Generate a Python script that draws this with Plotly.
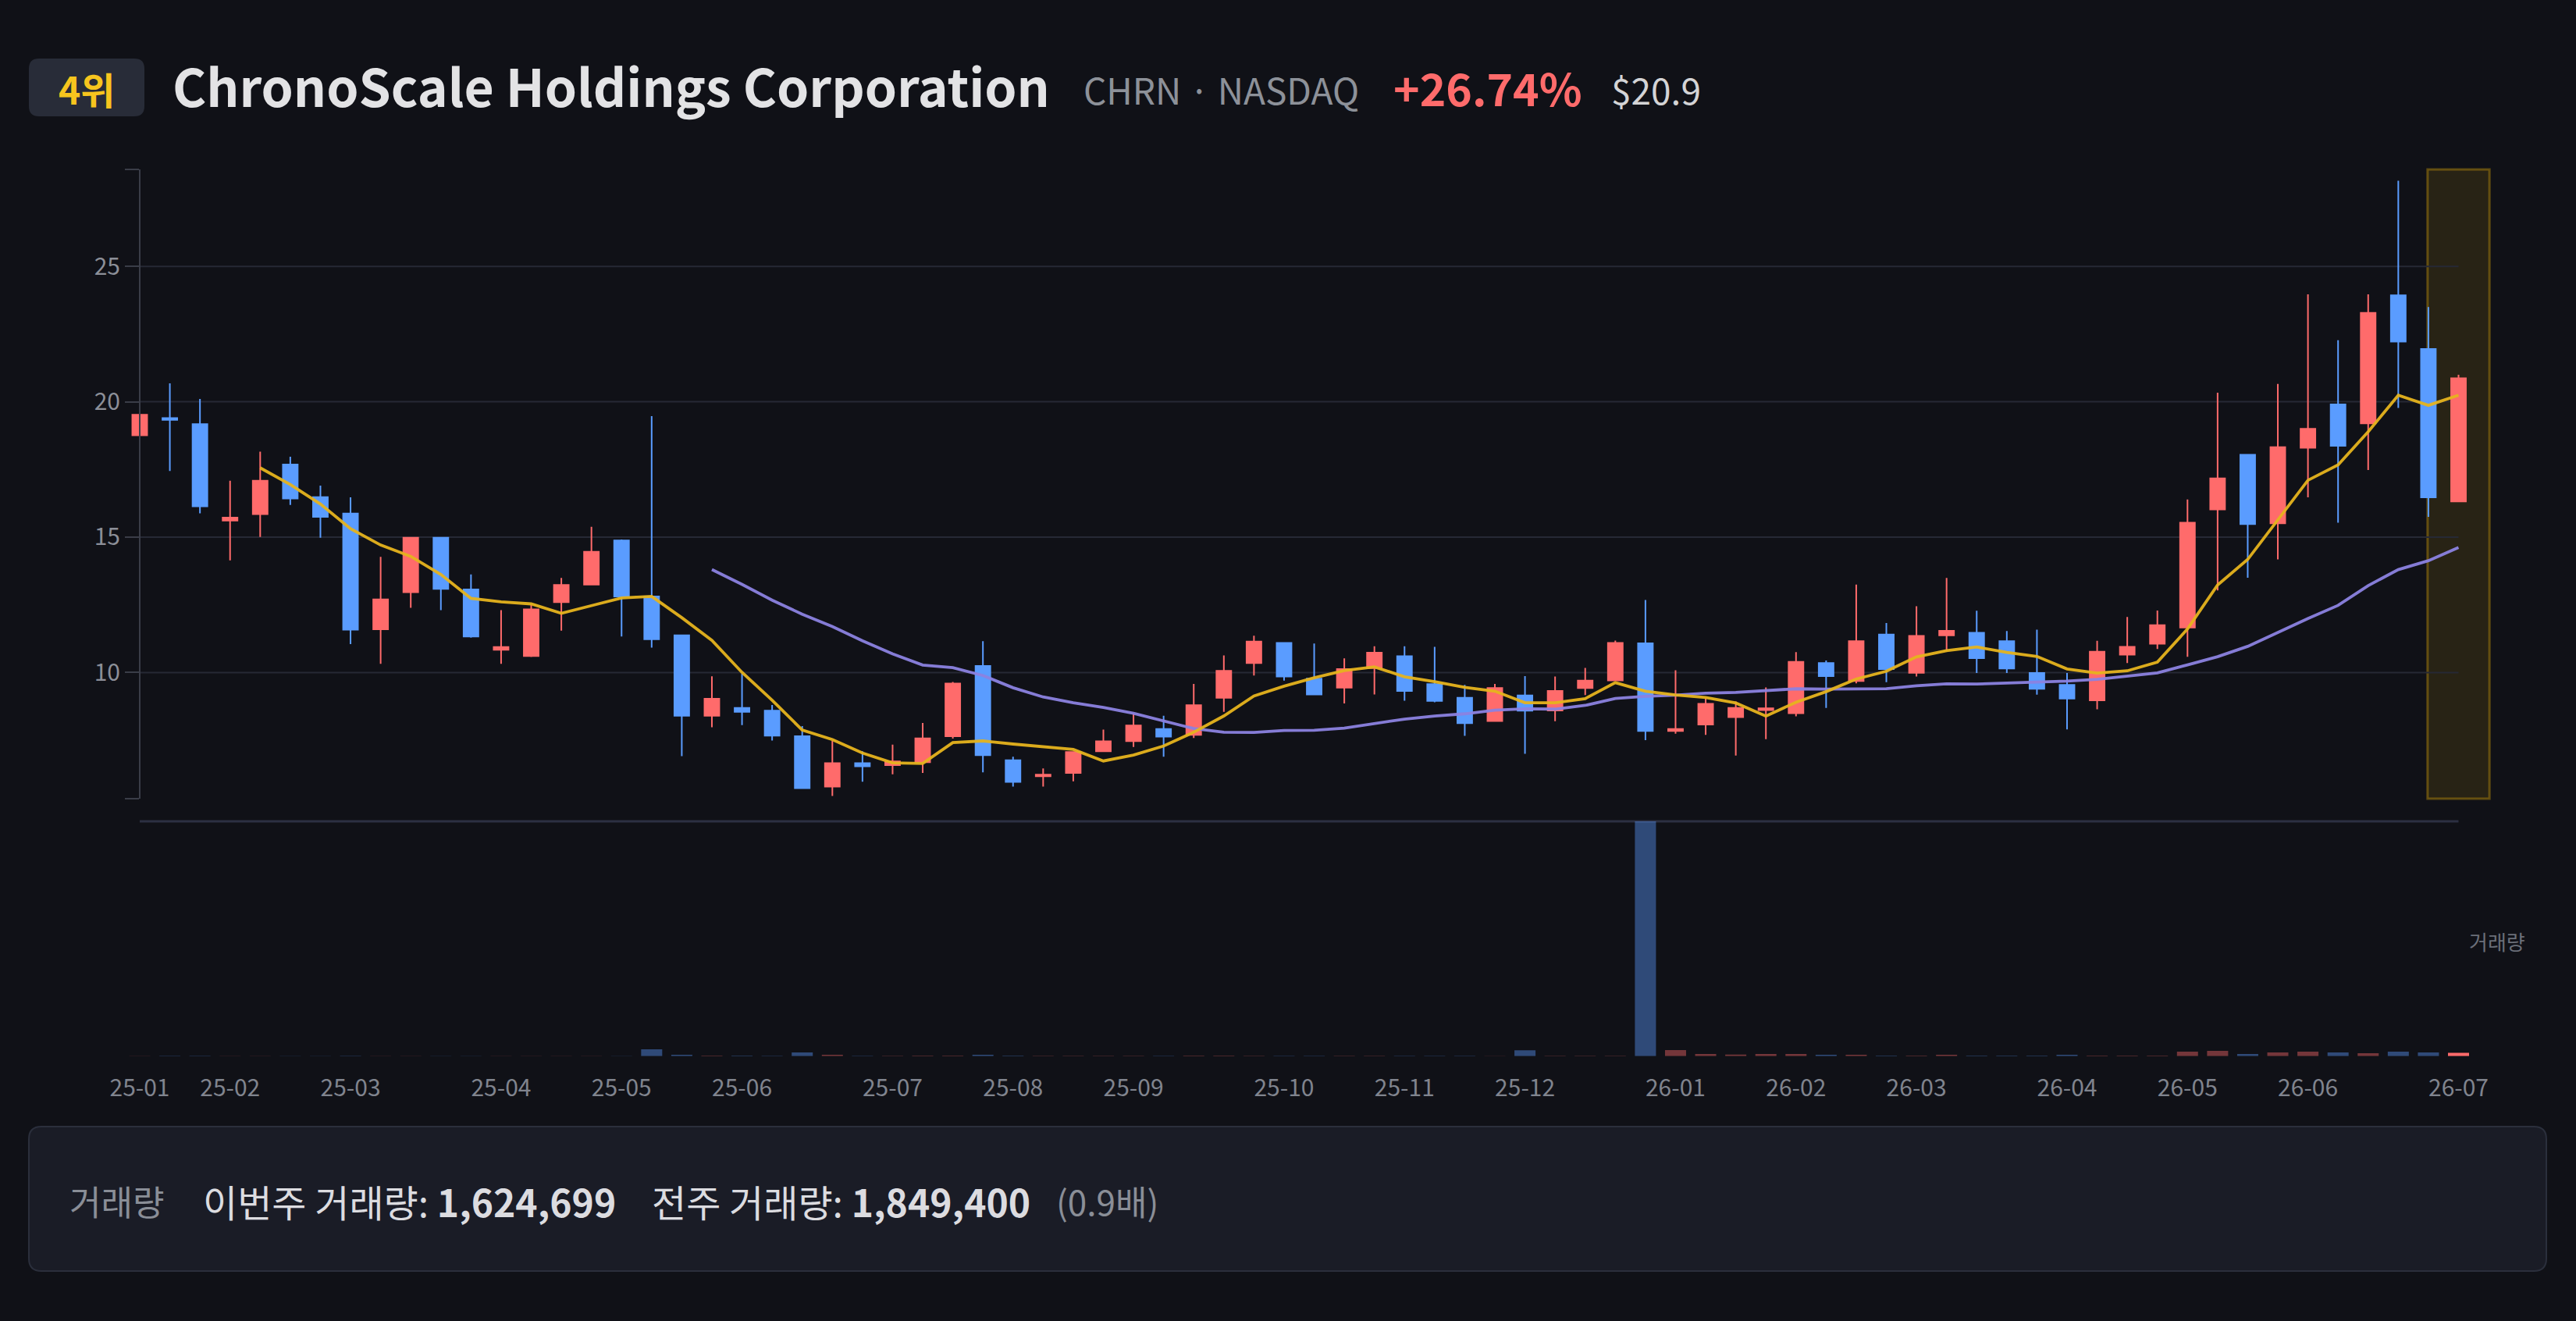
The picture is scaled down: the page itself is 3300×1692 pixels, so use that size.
import pandas as pd
import numpy as np
import plotly.graph_objects as go

# ---------------- data ----------------
START_WEEK = "2025-01-13"

OPEN = [18.76, 19.40, 19.17, 15.61, 15.85, 17.68, 16.48, 15.87, 11.60, 12.97,
        14.98, 13.07, 10.84, 10.61, 12.60, 13.25, 14.88, 12.81, 11.37, 8.40,
        8.69, 8.59, 7.65, 5.79, 6.65, 6.58, 6.69, 7.65, 10.24, 6.76,
        6.17, 6.29, 7.09, 7.47, 7.91, 7.70, 9.07, 10.35, 11.09, 9.77,
        9.44, 10.16, 10.60, 9.57, 9.07, 8.21, 9.15, 8.60, 9.43, 9.71,
        11.08, 7.84, 8.08, 8.35, 8.61, 8.50, 10.35, 9.69, 11.40, 9.99,
        11.37, 11.47, 11.16, 9.98, 9.54, 8.97, 10.66, 11.06, 11.66, 16.02,
        18.04, 15.51, 18.30, 19.90, 19.20, 23.93, 21.95, 16.32]
HIGH = [20.88, 20.68, 20.10, 17.08, 18.16, 17.97, 16.90, 16.47, 14.27, 14.98,
        14.98, 13.62, 12.30, 12.51, 13.49, 15.38, 14.91, 19.47, 11.37, 9.86,
        9.95, 8.80, 8.02, 7.49, 7.09, 7.34, 8.14, 9.65, 11.16, 6.89,
        6.46, 7.06, 7.89, 8.50, 8.40, 9.58, 10.63, 11.36, 11.09, 11.07,
        10.52, 10.97, 10.97, 10.95, 9.54, 9.58, 9.87, 9.85, 10.17, 11.18,
        12.68, 10.08, 9.05, 8.93, 9.45, 10.75, 10.44, 13.25, 11.83, 12.45,
        13.49, 12.28, 11.53, 11.58, 9.98, 11.17, 12.05, 12.29, 16.39, 20.33,
        18.04, 20.66, 23.97, 22.27, 23.97, 28.16, 23.50, 21.00]
LOW = [18.76, 17.44, 15.88, 14.14, 15.01, 16.19, 14.98, 11.05, 10.32, 12.39,
       12.30, 11.29, 10.32, 10.57, 11.55, 13.23, 11.33, 10.92, 6.91, 7.98,
       8.06, 7.49, 5.73, 5.44, 5.97, 6.24, 6.29, 7.56, 6.31, 5.79,
       5.79, 5.98, 7.09, 7.25, 6.89, 7.58, 8.55, 9.89, 9.70, 9.17,
       8.86, 9.19, 8.96, 8.90, 7.66, 8.21, 7.00, 8.20, 9.17, 9.71,
       7.50, 7.74, 7.70, 6.93, 7.54, 8.38, 8.69, 9.60, 9.64, 9.85,
       10.78, 9.98, 9.98, 9.18, 7.90, 8.64, 10.35, 10.87, 10.58, 13.03,
       13.50, 14.18, 16.47, 15.53, 17.48, 19.77, 15.75, 16.32]
CLOSE = [19.52, 19.33, 16.14, 15.72, 17.08, 16.43, 15.75, 11.58, 12.70, 14.98,
         13.09, 11.33, 10.94, 12.33, 13.23, 14.46, 12.81, 11.23, 8.40, 9.03,
         8.55, 7.67, 5.73, 6.65, 6.54, 6.72, 7.57, 9.59, 6.95, 5.96,
         6.23, 7.06, 7.46, 8.04, 7.63, 8.79, 10.06, 11.14, 9.85, 9.19,
         10.13, 10.73, 9.32, 8.95, 8.13, 9.43, 8.59, 9.32, 9.70, 11.09,
         7.84, 7.91, 8.84, 8.69, 8.68, 10.39, 9.87, 11.16, 10.13, 11.35,
         11.54, 10.53, 10.15, 9.40, 9.04, 10.77, 10.95, 11.75, 15.53, 17.17,
         15.48, 18.32, 19.00, 18.37, 23.28, 22.22, 16.47, 20.87]
VOLUME = [40000, 130000, 130000, 120000, 60000, 50000, 70000, 140000, 120000, 60000,
          50000, 80000, 40000, 70000, 60000, 90000, 50000, 3430000, 660000, 270000,
          270000, 200000, 1850000, 660000, 130000, 130000, 270000, 270000, 660000, 270000,
          130000, 130000, 130000, 130000, 130000, 270000, 270000, 130000, 130000, 130000,
          130000, 130000, 130000, 130000, 130000, 50000, 2900000, 130000, 130000, 130000,
          118500000, 3000000, 1050000, 800000, 1050000, 1050000, 660000, 660000, 270000, 270000,
          660000, 270000, 270000, 270000, 660000, 270000, 270000, 270000, 2250000, 2600000,
          1050000, 1850000, 2250000, 1850000, 1450000, 2250000, 1849400, 1624699]

RANK_TEXT = "4위"
COMPANY = "ChronoScale Holdings Corporation"
TICKER_TEXT = "CHRN · NASDAQ"
CHANGE_TEXT = "+26.74%"
PRICE_TEXT = "$20.9"
VOL_LABEL = "거래량"
THIS_WEEK = "이번주 거래량: <b>1,624,699</b>"
PREV_WEEK = "전주 거래량: <b>1,849,400</b>"
RATIO_TEXT = "(0.9배)"

# ---------------- style ----------------
W, H = 3300, 1692
BG = "#101117"
RED = "#ff6b6b"
BLUE = "#5a9cff"
FONT = "Noto Sans CJK KR"
GRID = "#262935"

dates = pd.date_range(START_WEEK, periods=len(CLOSE), freq="7D")
close_s = pd.Series(CLOSE)
ma5 = close_s.rolling(5).mean()
ma20 = close_s.rolling(20).mean()


def fx(p):
    return p / W


def fy(p):
    return 1 - p / H


# x mapping: first candle at px 179, last at px 3149.5
X_FIRST_PX, X_LAST_PX = 179.0, 3149.5
ms_per_px = (dates[-1] - dates[0]) / (X_LAST_PX - X_FIRST_PX)
x_range = [dates[0] - ms_per_px * X_FIRST_PX, dates[0] + ms_per_px * (W - X_FIRST_PX)]

PRICE_RANGE = [5.34, 28.58]
PRICE_TOP_PX, PRICE_BOT_PX = 217.0, 1023.0
VOL_TOP_PX, VOL_BOT_PX = 1052.0, 1352.7

# month tick positions: first weekly candle of every month
month_key = dates.strftime("%Y-%m")
first_idx = [i for i in range(len(dates)) if i == 0 or month_key[i] != month_key[i - 1]]
tick_vals = [dates[i] for i in first_idx]
tick_text = [dates[i].strftime("%y-%m") for i in first_idx]

up = [c >= o for o, c in zip(OPEN, CLOSE)]
vol_colors = []
for i, u in enumerate(up):
    if i == len(up) - 1:
        vol_colors.append(RED if u else BLUE)
    else:
        vol_colors.append("rgba(255,107,107,0.42)" if u else "rgba(90,156,255,0.42)")

fig = go.Figure()

fig.add_trace(go.Candlestick(
    x=dates, open=OPEN, high=HIGH, low=LOW, close=CLOSE,
    increasing=dict(line=dict(color=RED, width=2), fillcolor=RED),
    decreasing=dict(line=dict(color=BLUE, width=2), fillcolor=BLUE),
    xaxis="x", yaxis="y", showlegend=False, hoverinfo="skip",
))
fig.add_trace(go.Scatter(
    x=dates, y=ma20, mode="lines", line=dict(color="#8c82e1", width=3.8),
    opacity=0.95, xaxis="x", yaxis="y", showlegend=False, hoverinfo="skip",
))
fig.add_trace(go.Scatter(
    x=dates, y=ma5, mode="lines", line=dict(color="#e6b41e", width=3.8),
    opacity=0.95, xaxis="x", yaxis="y", showlegend=False, hoverinfo="skip",
))
fig.add_trace(go.Bar(
    x=dates, y=VOLUME, marker=dict(color=vol_colors, line=dict(width=0)),
    width=0.7 * 7 * 86400000, xaxis="x", yaxis="y2", showlegend=False, hoverinfo="skip",
))

shapes = []
# grid lines
for v in [10, 15, 20, 25]:
    shapes.append(dict(type="line", xref="x", yref="y", x0=dates[0], x1=dates[-1], y0=v, y1=v,
                       line=dict(color=GRID, width=2), layer="below"))
# volume separator
shapes.append(dict(type="line", xref="x", yref="paper", x0=dates[0], x1=dates[-1],
                   y0=fy(VOL_TOP_PX), y1=fy(VOL_TOP_PX),
                   line=dict(color="#2c3042", width=3), layer="below"))
# highlight of latest week
half = pd.Timedelta(days=7.2)
shapes.append(dict(type="rect", xref="x", yref="paper",
                   x0=dates[-1] - half, x1=dates[-1] + half,
                   y0=fy(PRICE_BOT_PX), y1=fy(PRICE_TOP_PX),
                   fillcolor="rgba(234,179,8,0.11)",
                   line=dict(color="rgba(234,179,8,0.35)", width=3), layer="below"))


def rounded_rect(x0, y0, x1, y1, r):
    # pixel coords -> paper path
    X0, X1 = fx(x0), fx(x1)
    Y0, Y1 = fy(y0), fy(y1)
    rx, ry = r / W, r / H
    return (f"M {X0+rx},{Y0} L {X1-rx},{Y0} Q {X1},{Y0} {X1},{Y0-ry} "
            f"L {X1},{Y1+ry} Q {X1},{Y1} {X1-rx},{Y1} L {X0+rx},{Y1} "
            f"Q {X0},{Y1} {X0},{Y1+ry} L {X0},{Y0-ry} Q {X0},{Y0} {X0+rx},{Y0} Z")


# rank badge
shapes.append(dict(type="path", xref="paper", yref="paper",
                   path=rounded_rect(37, 75, 185, 149, 13),
                   fillcolor="#282c38", line=dict(width=0), layer="below"))
# bottom info box
shapes.append(dict(type="path", xref="paper", yref="paper",
                   path=rounded_rect(37, 1443, 3262, 1628, 16),
                   fillcolor="#1a1c26", line=dict(color="#2b2f3c", width=2), layer="below"))

annotations = [
    dict(text=f"<b>{RANK_TEXT}</b>", x=fx(111), y=fy(113), xanchor="center", yanchor="middle",
         font=dict(family=FONT, size=48, color="#f7c51e")),
    dict(text=f"<b>{COMPANY}</b>", x=fx(219), y=fy(108), xanchor="left", yanchor="middle",
         font=dict(family=FONT, size=66, color="#e3e3e5")),
    dict(text=TICKER_TEXT, x=fx(1386), y=fy(114), xanchor="left", yanchor="middle",
         font=dict(family=FONT, size=46, color="#8d9199")),
    dict(text=f"<b>{CHANGE_TEXT}</b>", x=fx(1783), y=fy(111), xanchor="left", yanchor="middle",
         font=dict(family=FONT, size=57, color=RED)),
    dict(text=PRICE_TEXT, x=fx(2062), y=fy(114), xanchor="left", yanchor="middle",
         font=dict(family=FONT, size=46, color="#d4d4d6")),
    dict(text=VOL_LABEL, x=fx(3199), y=fy(1205), xanchor="center", yanchor="middle",
         font=dict(family=FONT, size=26, color="#6b6f79")),
    dict(text=VOL_LABEL, x=fx(87), y=fy(1538), xanchor="left", yanchor="middle",
         font=dict(family=FONT, size=44, color="#8a8e97")),
    dict(text=THIS_WEEK, x=fx(258), y=fy(1538), xanchor="left", yanchor="middle",
         font=dict(family=FONT, size=48, color="#dcdce0")),
    dict(text=PREV_WEEK, x=fx(833), y=fy(1538), xanchor="left", yanchor="middle",
         font=dict(family=FONT, size=48, color="#dcdce0")),
    dict(text=RATIO_TEXT, x=fx(1351), y=fy(1538), xanchor="left", yanchor="middle",
         font=dict(family=FONT, size=44, color="#8a8e97")),
]
for a in annotations:
    a.update(xref="paper", yref="paper", showarrow=False)

fig.update_layout(
    width=W, height=H,
    margin=dict(l=0, r=0, t=0, b=0),
    paper_bgcolor=BG, plot_bgcolor=BG,
    font=dict(family=FONT, color="#8c8f98"),
    showlegend=False,
    bargap=0.3,
    xaxis=dict(
        domain=[0, 1], range=x_range, type="date", anchor="y2",
        showgrid=False, zeroline=False, showline=False,
        tickmode="array", tickvals=tick_vals, ticktext=tick_text,
        ticks="outside", ticklen=14, tickcolor="rgba(0,0,0,0)",
        tickfont=dict(family=FONT, size=30, color="#80848e"),
        rangeslider=dict(visible=False), fixedrange=True,
    ),
    yaxis=dict(
        domain=[fy(PRICE_BOT_PX), fy(PRICE_TOP_PX)], range=PRICE_RANGE,
        anchor="free", position=fx(X_FIRST_PX), side="left",
        showgrid=False, zeroline=False,
        showline=True, linecolor="#3a3d48", linewidth=2,
        ticks="outside", ticklen=18, tickwidth=2, tickcolor="#3a3d48",
        tickmode="array",
        tickvals=[PRICE_RANGE[0] + 0.004, 10, 15, 20, 25, PRICE_RANGE[1] - 0.004],
        ticktext=["", "10", "15", "20", "25", ""],
        tickfont=dict(family=FONT, size=30, color="#8c8f98"),
        fixedrange=True,
    ),
    yaxis2=dict(
        domain=[fy(VOL_BOT_PX), fy(VOL_TOP_PX)], range=[0, max(VOLUME)],
        anchor="x", showgrid=False, zeroline=False, showline=False,
        showticklabels=False, ticks="", fixedrange=True,
    ),
    shapes=shapes,
    annotations=annotations,
)

PAGE_JS = ("document.body.style.margin='0';document.body.style.padding='0';"
           "document.body.style.overflow='hidden';"
           "document.body.style.background='" + BG + "';"
           "document.documentElement.style.background='" + BG + "';")

fig.write_html("out.html", config={"displayModeBar": False}, post_script=PAGE_JS)
